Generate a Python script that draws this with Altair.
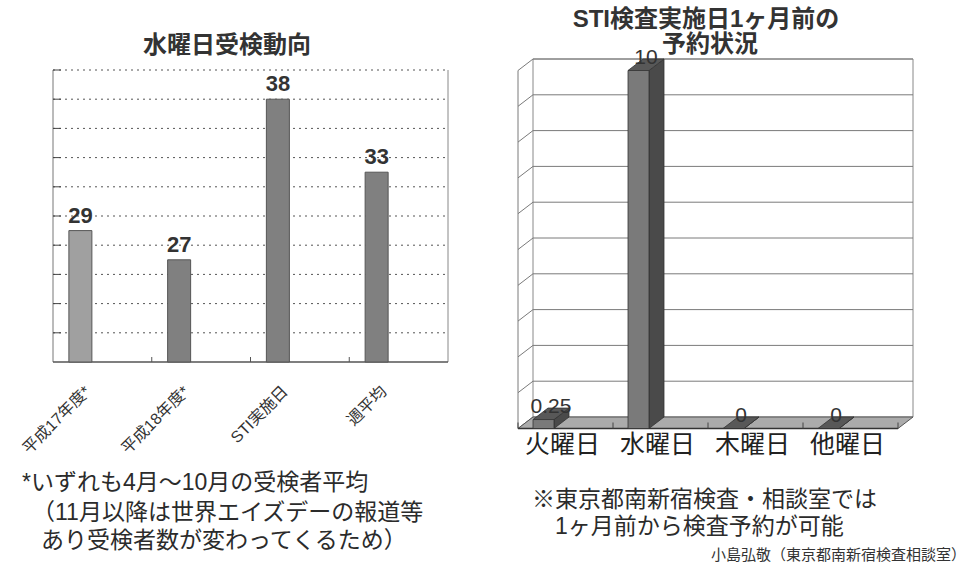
import altair as alt
import pandas as pd

# ---------------- data ----------------
left_title = "水曜日受検動向"
left_categories = ["平成17年度*", "平成18年度*", "STI実施日", "週平均"]
left_values = [29, 27, 38, 33]
left_domain = [20, 40]
left_grid_values = [22, 24, 26, 28, 30, 32, 34, 36, 38, 40]

right_title_lines = ["STI検査実施日1ヶ月前の", "予約状況"]
right_categories = ["火曜日", "水曜日", "木曜日", "他曜日"]
right_values = [0.25, 10, 0, 0]
right_value_labels = ["0.25", "10", "0", "0"]
right_domain = [0, 10]
right_grid_values = [0, 1, 2, 3, 4, 5, 6, 7, 8, 9, 10]

left_notes = ["*いずれも4月～10月の受検者平均",
              "（11月以降は世界エイズデーの報道等",
              "あり受検者数が変わってくるため）"]
right_notes = ["※東京都南新宿検査・相談室では", "1ヶ月前から検査予約が可能"]
credit_text = "小島弘敬（東京都南新宿検査相談室）"

# ---------------- layout / style (pixels) ----------------
W, H = 968, 572
LX0, LX1, LY_BOTTOM, LY_TOP = 53, 448, 362, 70
RX0, RX1, RY_BOTTOM, RY_TOP = 533, 913, 417, 59
DEPTH_DX, DEPTH_DY = -15, 11.5
BAR_SHIFT = -22
L_BAR_W = 23
R_BAR_W = 21

MIX = "Liberation Sans, Noto Sans CJK JP"
TXT = "#2b2b2b"

lx = alt.Scale(domain=left_categories, range=[LX0, LX1], paddingInner=0, paddingOuter=0)
ly = alt.Scale(domain=left_domain, range=[LY_BOTTOM, LY_TOP], nice=False, zero=False)
n_r = len(right_categories)
rx = alt.Scale(domain=[0, n_r], range=[RX0, RX1], nice=False, zero=False)
ry = alt.Scale(domain=right_domain, range=[RY_BOTTOM, RY_TOP], nice=False, zero=False)

ux = (RX1 - RX0) / n_r
uy = (RY_BOTTOM - RY_TOP) / (right_domain[1] - right_domain[0])
dxu = DEPTH_DX / ux
dyu = -DEPTH_DY / uy
shift_u = BAR_SHIFT / ux
half_u = R_BAR_W / 2 / ux


def LXc(field, **kw):
    return alt.X(field, type="nominal", scale=lx, axis=None, **kw)


def LYq(field):
    return alt.Y(field, type="quantitative", scale=ly, axis=None)


def RXq(field):
    return alt.X(field, type="quantitative", scale=rx, axis=None)


def RYq(field):
    return alt.Y(field, type="quantitative", scale=ry, axis=None)


def text_at(s, x, y, size, align="center", weight="normal", color=TXT):
    return alt.Chart(pd.DataFrame({"t": [s]})).mark_text(
        align=align, baseline="middle", fontSize=size, font=MIX,
        fontWeight=weight, color=color
    ).encode(x=alt.value(x), y=alt.value(y), text="t:N")


layers = []

# ================= LEFT CHART =================
ldf = pd.DataFrame({"cat": left_categories, "val": left_values})
lgrid = pd.DataFrame({"v": left_grid_values})

frame_df = pd.DataFrame({"a": [0]})
layers.append(alt.Chart(frame_df).mark_rule(color="#777", strokeWidth=1).encode(
    x=alt.value(LX0), y=alt.value(LY_TOP), y2=alt.value(LY_BOTTOM)))
layers.append(alt.Chart(frame_df).mark_rule(color="#888", strokeWidth=1).encode(
    x=alt.value(LX1), y=alt.value(LY_TOP), y2=alt.value(LY_BOTTOM)))
layers.append(alt.Chart(frame_df).mark_rule(color="#555", strokeWidth=1.5).encode(
    x=alt.value(LX0), x2=alt.value(LX1), y=alt.value(LY_BOTTOM)))

layers.append(alt.Chart(lgrid).mark_rule(color="#555", strokeWidth=1, strokeDash=[2, 4]).encode(
    x=alt.value(LX0), x2=alt.value(LX1), y=LYq("v")))
layers.append(alt.Chart(lgrid).mark_rule(color="#444", strokeWidth=1).encode(
    x=alt.value(LX0), x2=alt.value(LX0 + 8), y=LYq("v")))
layers.append(alt.Chart(pd.DataFrame({"cat": left_categories[1:]})).mark_rule(
    color="#555", strokeWidth=1).encode(
    x=LXc("cat", bandPosition=0), y=alt.value(LY_BOTTOM - 5), y2=alt.value(LY_BOTTOM)))

layers.append(alt.Chart(ldf).mark_bar(width=L_BAR_W, xOffset=BAR_SHIFT, stroke="#555",
                                      strokeWidth=1).encode(
    x=LXc("cat"), y=LYq("val"), y2=alt.datum(left_domain[0]),
    color=alt.Color("cat:N", scale=alt.Scale(domain=left_categories,
                                             range=["#a0a0a0", "#808080", "#808080", "#808080"]),
                    legend=None)))
layers.append(alt.Chart(ldf).mark_text(xOffset=BAR_SHIFT, dy=-8, baseline="alphabetic",
                                       fontSize=22, fontWeight="bold", font=MIX,
                                       color="#333").encode(
    x=LXc("cat"), y=LYq("val"), text="val:Q"))
layers.append(alt.Chart(ldf).mark_text(angle=315, align="right", baseline="middle",
                                       xOffset=BAR_SHIFT + 7.5, fontSize=16, font=MIX,
                                       color="#333").encode(
    x=LXc("cat"), y=alt.value(389), text="cat:N"))

# ================= RIGHT CHART =================
wall = pd.DataFrame({"x0": [0], "x1": [n_r], "y0": [right_domain[0]], "y1": [right_domain[1]]})
layers.append(alt.Chart(wall).mark_rect(fill="white", stroke="#888", strokeWidth=1).encode(
    x=RXq("x0"), x2="x1", y=RYq("y0"), y2="y1"))
rg = pd.DataFrame({"v": right_grid_values[1:], "x0": 0, "x1": n_r})
layers.append(alt.Chart(rg).mark_rule(color="#7a7a7a", strokeWidth=1).encode(
    x=RXq("x0"), x2="x1", y=RYq("v")))
diag = pd.DataFrame({"x0": 0.0, "x1": dxu, "y0": right_grid_values,
                     "y1": [v + dyu for v in right_grid_values]})
layers.append(alt.Chart(diag).mark_rule(color="#7a7a7a", strokeWidth=1).encode(
    x=RXq("x0"), x2="x1", y=RYq("y0"), y2="y1"))
fe = pd.DataFrame({"x0": [dxu], "y0": [right_domain[0] + dyu], "y1": [right_domain[1] + dyu]})
layers.append(alt.Chart(fe).mark_rule(color="#7a7a7a", strokeWidth=1).encode(
    x=RXq("x0"), y=RYq("y0"), y2="y1"))
floor = pd.DataFrame({"y": [dyu, 0.0], "xa": [dxu, 0.0], "xb": [n_r + dxu, float(n_r)]})
layers.append(alt.Chart(floor).mark_area(orient="horizontal", fill="#ababab", stroke="#555",
                                         strokeWidth=1).encode(
    y=RYq("y"), x=RXq("xa"), x2="xb"))
ffe = pd.DataFrame({"x0": [dxu], "x1": [n_r + dxu], "y0": [dyu]})
layers.append(alt.Chart(ffe).mark_rule(color="#333", strokeWidth=1.5).encode(
    x=RXq("x0"), x2="x1", y=RYq("y0")))
ft = pd.DataFrame({"x0": [k + dxu for k in range(n_r + 1)], "y0": dyu})
layers.append(alt.Chart(ft).mark_rule(color="#444", strokeWidth=1, y2Offset=-6).encode(
    x=RXq("x0"), y=RYq("y0"), y2="y0"))

front_rows, side_rows, top_rows, lab_rows, cat_rows = [], [], [], [], []
for i, (c, v, lab) in enumerate(zip(right_categories, right_values, right_value_labels)):
    cx = i + 0.5 + shift_u
    xl, xr = cx - half_u, cx + half_u
    front_rows.append({"cat": c, "x0": xl + dxu, "x1": xr + dxu, "y0": dyu, "y1": v + dyu})
    side_rows.append({"cat": c, "x": xr + dxu, "y0": dyu, "y1": v + dyu})
    side_rows.append({"cat": c, "x": xr, "y0": 0.0, "y1": v})
    top_rows.append({"cat": c, "y": v + dyu, "xa": xl + dxu, "xb": xr + dxu})
    top_rows.append({"cat": c, "y": v, "xa": xl, "xb": xr})
    lab_rows.append({"cat": c, "x": cx + dxu / 2, "y": v, "t": lab})
    cat_rows.append({"cat": c, "x": i + 0.5 + dxu})

layers.append(alt.Chart(pd.DataFrame(side_rows)).mark_area(
    orient="vertical", fill="#4a4a4a", stroke="#333", strokeWidth=0.8).encode(
    x=RXq("x"), y=RYq("y0"), y2="y1", detail="cat:N"))
layers.append(alt.Chart(pd.DataFrame(top_rows)).mark_area(
    orient="horizontal", fill="#585858", stroke="#333", strokeWidth=0.8).encode(
    y=RYq("y"), x=RXq("xa"), x2="xb", detail="cat:N"))
layers.append(alt.Chart(pd.DataFrame(front_rows)).mark_rect(
    fill="#7a7a7a", stroke="#333", strokeWidth=0.8).encode(
    x=RXq("x0"), x2="x1", y=RYq("y0"), y2="y1"))
layers.append(alt.Chart(pd.DataFrame(lab_rows)).mark_text(
    fontSize=21, font=MIX, color="#333", baseline="middle", dy=-1).encode(
    x=RXq("x"), y=RYq("y"), text="t:N"))
layers.append(alt.Chart(pd.DataFrame(cat_rows)).mark_text(
    fontSize=25, font=MIX, color="#222", baseline="middle", xOffset=-3).encode(
    x=RXq("x"), y=alt.value(445), text="cat:N"))

# ================= TEXTS =================
layers.append(text_at(left_title, 227, 46, 24, weight="bold", color="#333"))
layers.append(text_at(right_title_lines[0], 706, 20, 24, weight="bold", color="#333"))
layers.append(text_at(right_title_lines[1], 710, 45, 24, weight="bold", color="#333"))

layers.append(text_at(left_notes[0], 22, 483, 23, align="left"))
layers.append(text_at(left_notes[1], 32, 513, 23, align="left"))
layers.append(text_at(left_notes[2], 41, 541, 23, align="left"))
layers.append(text_at(right_notes[0], 532, 500, 23, align="left"))
layers.append(text_at(right_notes[1], 555, 527, 23, align="left"))
layers.append(text_at(credit_text, 966, 555, 15, align="right", color="#333"))

chart = alt.layer(*layers).resolve_scale(
    x="independent", y="independent", color="independent"
).properties(
    width=W, height=H, padding=0,
    autosize=alt.AutoSizeParams(type="none"),
    background="white",
).configure_view(stroke=None)

chart.save("out.html", embed_options={"renderer": "svg", "actions": False})
